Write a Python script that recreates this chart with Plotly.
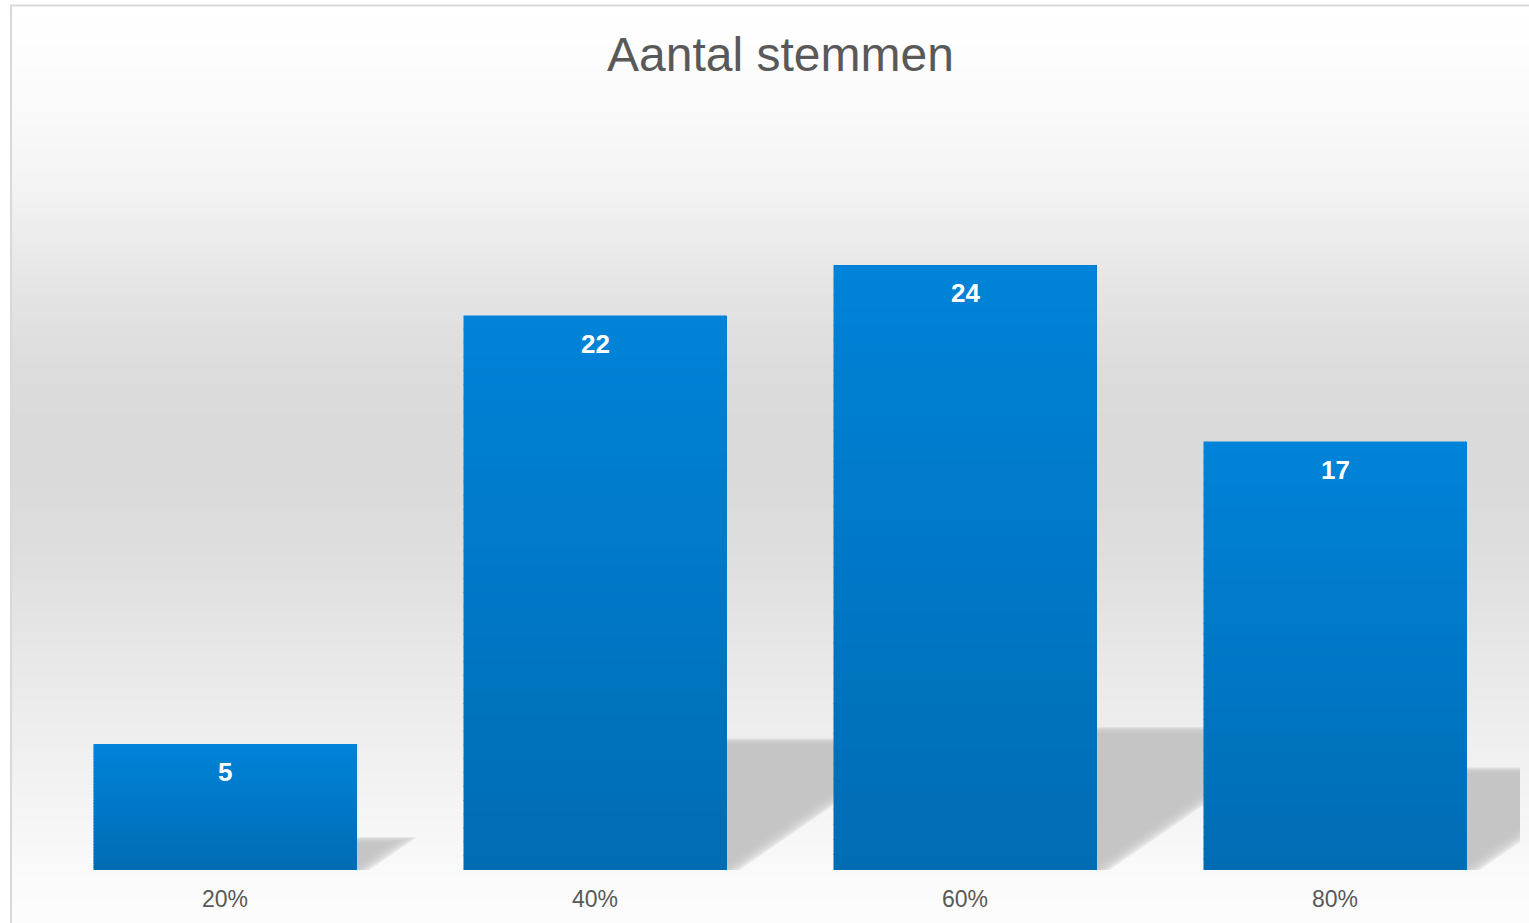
import plotly.graph_objects as go

# ---- data ----
categories = ["20%", "40%", "60%", "80%"]
votes = [5, 22, 24, 17]
title_text = "Aantal stemmen"

# ---- layout constants (pixels) ----
W, H = 1529, 923
ML, MR, MT, MB = 40, 9, 114, 53
PW, PH = W - ML - MR, H - MT - MB
YMAX = 30
XMIN, XMAX = -0.5, len(categories) - 0.5
px_x = PW / (XMAX - XMIN)
px_y = PH / YMAX
BAR_W = 263 / px_x


def px_to_paper_y(py):
    return (H - MB - py) / PH


def px_to_paper_x(px):
    return (px - ML) / PW


def lerp(a, b, t):
    return a + (b - a) * t


# background gradient (grey level by pixel row)
bg_stops = [(5, 255), (60, 253), (120, 249), (190, 243), (250, 234), (310, 226),
            (370, 220), (430, 218), (480, 218), (540, 221), (600, 226), (660, 232),
            (720, 237), (780, 242), (840, 247), (880, 251), (923, 252)]


def bg_level(py):
    for (y0, g0), (y1, g1) in zip(bg_stops[:-1], bg_stops[1:]):
        if y0 <= py <= y1:
            return lerp(g0, g1, (py - y0) / (y1 - y0))
    return bg_stops[-1][1]


shapes = []
step = 4
frame_x0 = 11
py = 5
while py < H:
    g = round(bg_level(py + step / 2))
    shapes.append(dict(type="rect", xref="paper", yref="paper", layer="below",
                       x0=px_to_paper_x(frame_x0), x1=px_to_paper_x(W + 20),
                       y0=px_to_paper_y(py + step + 0.6), y1=px_to_paper_y(py),
                       fillcolor=f"rgb({g},{g},{g})", line=dict(width=0)))
    py += step

# frame border
shapes.append(dict(type="rect", xref="paper", yref="paper", layer="below",
                   x0=px_to_paper_x(frame_x0), x1=px_to_paper_x(W + 20),
                   y0=px_to_paper_y(H + 20), y1=px_to_paper_y(5.5),
                   fillcolor="rgba(0,0,0,0)", line=dict(color="#d9d9d9", width=2)))

# perspective shadows (computed from data), soft edges via stacked layers
SH_RATIO = 0.23
SLOPE = 0.69
blur_steps = [8, 6, 4, 2, 0, -2, -4, -6]
for i, v in enumerate(votes):
    x0 = i - BAR_W / 2
    x1 = i + BAR_W / 2
    hpx = SH_RATIO * v * px_y
    dxpx = hpx / SLOPE
    for k in blur_steps:
        top_k = max(0.5 * k, -0.25 * hpx)
        htop = max(hpx + top_k, 1) / px_y
        dx = (dxpx + top_k / SLOPE) / px_x
        kx = 1.6 * k / px_x
        path = (f"M {x0} 0 L {x1 + kx} 0 L {x1 + dx + kx} {htop} "
                f"L {x0 + dx} {htop} Z")
        shapes.append(dict(type="path", xref="x", yref="y", layer="below",
                           path=path, fillcolor="rgba(196,196,196,0.32)",
                           line=dict(width=0)))

# vertical gradient on bars (computed from data)
top_rgb = (0, 131, 216)
bot_rgb = (0, 108, 180)
N = 40
for i, v in enumerate(votes):
    x0 = i - BAR_W / 2
    x1 = i + BAR_W / 2
    for k in range(N):
        t = (k + 0.5) / N
        c = tuple(round(lerp(b, tp, t)) for b, tp in zip(bot_rgb, top_rgb))
        ya = v * k / N
        yb = min(v, v * (k + 1) / N + 0.03)
        shapes.append(dict(type="rect", xref="x", yref="y", layer="above",
                           x0=x0, x1=x1, y0=ya, y1=yb,
                           fillcolor=f"rgb{c}", line=dict(width=0)))

fig = go.Figure()
fig.add_trace(go.Bar(
    x=list(range(len(categories))), y=votes, width=BAR_W,
    marker=dict(color="#0077c6", line=dict(width=0)),
    hoverinfo="skip", showlegend=False,
))

annotations = []
for i, v in enumerate(votes):
    annotations.append(dict(x=i, y=v, xref="x", yref="y", text=f"<b>{v}</b>",
                            showarrow=False, yanchor="middle", yshift=-28,
                            font=dict(family="Liberation Sans, Arial", size=26,
                                      color="white")))

fig.update_layout(
    width=W, height=H,
    margin=dict(l=ML, r=MR, t=MT, b=MB, pad=0),
    paper_bgcolor="white",
    plot_bgcolor="rgba(0,0,0,0)",
    title=dict(text=title_text, x=780.5 / W, xanchor="center",
               y=1 - 54 / H, yanchor="middle", yref="container",
               font=dict(family="Liberation Sans, Arial", size=48, color="#595959")),
    xaxis=dict(range=[XMIN, XMAX], tickvals=list(range(len(categories))),
               ticktext=categories, showgrid=False, zeroline=False,
               showline=False, ticks="", ticklabelstandoff=13,
               tickfont=dict(family="Liberation Sans, Arial", size=23, color="#595959")),
    yaxis=dict(range=[0, YMAX], visible=False, showgrid=False, zeroline=False),
    shapes=shapes,
    annotations=annotations,
    bargap=0,
    showlegend=False,
)

fig.write_html("out.html", config={"displayModeBar": False})
